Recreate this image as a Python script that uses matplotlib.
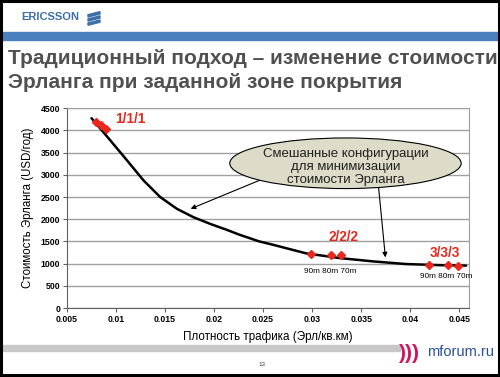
import matplotlib.pyplot as plt
from matplotlib.patches import Ellipse, Rectangle, Polygon

plt.rcParams['font.family'] = ['Liberation Sans', 'DejaVu Sans']

# cost curve (traffic density vs Erlang cost)
curve_x = [0.0075, 0.0094, 0.0111, 0.0128, 0.0145, 0.0162, 0.0179, 0.0196, 0.0213,
           0.0226, 0.0246, 0.0260, 0.0294, 0.0328, 0.0362, 0.0396, 0.0430, 0.0457]
curve_y = [4275, 3780, 3330, 2875, 2500, 2235, 2045, 1895, 1760,
           1650, 1500, 1425, 1230, 1125, 1050, 990, 965, 955]

# configurations
cfg1_x = [0.0080, 0.0085, 0.0090]
cfg1_y = [4180, 4120, 4040]
cfg2_x = [0.0299, 0.0319, 0.0329]
cfg2_y = [1214, 1192, 1190]
cfg3_x = [0.0419, 0.0439, 0.0449]
cfg3_y = [965, 963, 952]

xticks = [0.005, 0.01, 0.015, 0.02, 0.025, 0.03, 0.035, 0.04, 0.045]
xticklabels = ["0.005", "0.01", "0.015", "0.02", "0.025", "0.03", "0.035", "0.04", "0.045"]
yticks = list(range(0, 4501, 500))

fig = plt.figure(figsize=(5, 3.77), dpi=100)

# slide decoration
fig.text(0.043, 0.954, "ERICSSON", fontsize=8, fontweight='bold', color='#3c6fa8', va='center')
for yc in (0.961, 0.950, 0.939):
    fig.add_artist(Polygon([[0.176, yc - 0.006], [0.200, yc + 0.002], [0.200, yc + 0.008], [0.176, yc]],
                           closed=True, color='#3c6fa8', transform=fig.transFigure))
fig.add_artist(Rectangle((0, 0.894), 1, 0.021, color='#4a80bd', transform=fig.transFigure))
fig.text(0.016, 0.844, "Традиционный подход – изменение стоимости", fontsize=15,
         fontweight='bold', color='#505050', va='center')
fig.text(0.016, 0.781, "Эрланга при заданной зоне покрытия", fontsize=15,
         fontweight='bold', color='#505050', va='center')
fig.add_artist(Rectangle((0, 0.069), 0.80, 0.016, color='#c8c8c8', transform=fig.transFigure))
fig.text(0.523, 0.032, "13", fontsize=4.5, color='#404040', ha='center', va='center')
fig.text(0.798, 0.063, ")))", fontsize=15, fontweight='bold', color='#d4145a', va='center')
fig.text(0.855, 0.066, "mforum.ru", fontsize=10.5, color='#2a4f9e', va='center')
fig.add_artist(Rectangle((0.002, 0.004), 0.996, 0.993, fill=False, ec='black', lw=2.2,
                         transform=fig.transFigure))

ax = fig.add_axes([0.134, 0.183, 0.804, 0.530])
ax.set_xlim(0.005, 0.0460)
ax.set_ylim(0, 4500)
ax.set_yticks(yticks)
ax.set_xticks(xticks)
ax.set_xticklabels(xticklabels)
ax.yaxis.grid(True, color='#a0a0a0', lw=1.0)
ax.set_axisbelow(True)
for s in ('top', 'right'):
    ax.spines[s].set_color('#a0a0a0')
ax.spines['left'].set_color('#606060')
ax.spines['bottom'].set_color('#606060')
ax.tick_params(labelsize=6.3, length=3, width=0.8, color='#606060', pad=2)
for lab in ax.get_xticklabels() + ax.get_yticklabels():
    lab.set_fontweight('bold')

ax.set_xlabel("Плотность трафика (Эрл/кв.км)", fontsize=8.4, labelpad=5)
ax.set_ylabel("Стоимость Эрланга (USD/год)", fontsize=8.3, labelpad=5)

ax.plot(curve_x, curve_y, color='black', lw=1.8, zorder=3, solid_capstyle='round')
red = '#e8281e'
for xs, ys in ((cfg1_x, cfg1_y), (cfg2_x, cfg2_y), (cfg3_x, cfg3_y)):
    ax.plot(xs, ys, linestyle='none', marker='D', ms=4.5, color=red, zorder=4)

ax.text(0.0099, 4250, "1/1/1", color=red, fontsize=9.8, fontweight='bold', va='center')
ax.text(0.0332, 1590, "2/2/2", color=red, fontsize=9.8, fontweight='bold', ha='center', va='center')
ax.text(0.0435, 1250, "3/3/3", color=red, fontsize=9.8, fontweight='bold', ha='center', va='center')
ax.text(0.0318, 825, "90m 80m 70m", fontsize=5.9, ha='center', va='center')
ax.text(0.0437, 711, "90m 80m 70m", fontsize=5.9, ha='center', va='center')

ax.annotate("", xy=(0.01735, 2211), xytext=(0.0260, 3000),
            arrowprops=dict(arrowstyle='-|>', color='black', lw=0.8, mutation_scale=7), zorder=4)
ax.annotate("", xy=(0.0375, 1078), xytext=(0.0367, 2900),
            arrowprops=dict(arrowstyle='-|>', color='black', lw=0.8, mutation_scale=7), zorder=4)
ax.add_patch(Ellipse((0.0334, 3260), 0.0236, 1140, fc='#dcdcc8', ec='black', lw=0.8, zorder=5))
ax.text(0.0334, 3175, "Смешанные конфигурации\nдля минимизации\nстоимости Эрланга",
        fontsize=9.5, ha='center', va='center', linespacing=1.1, color='#202020', zorder=6)

fig.savefig("out.png", dpi=100)
